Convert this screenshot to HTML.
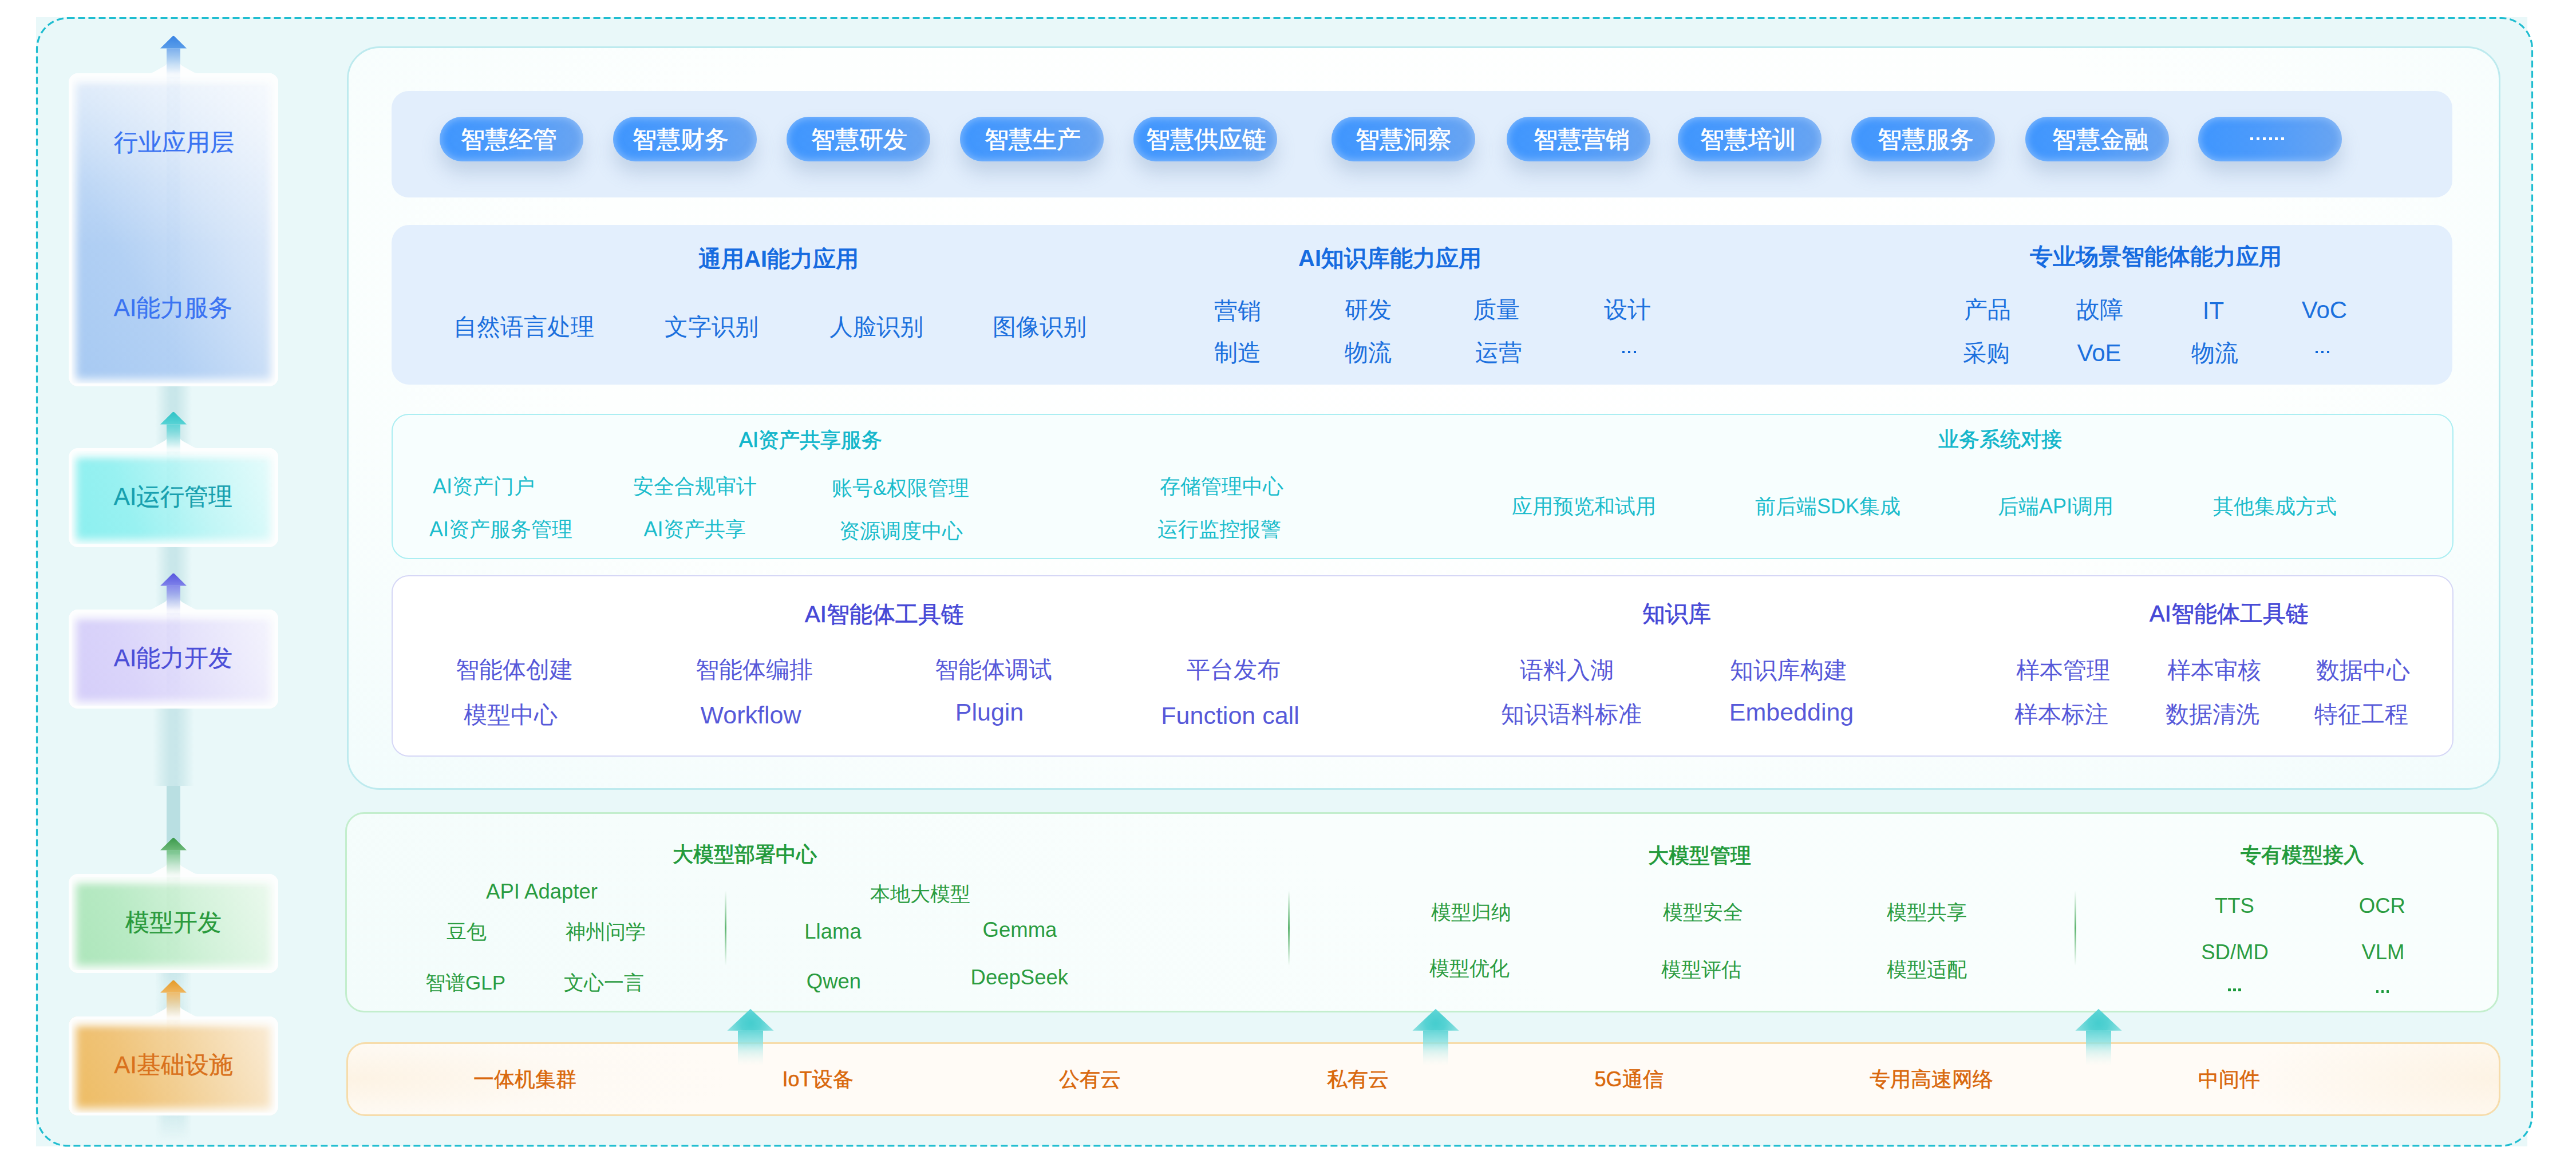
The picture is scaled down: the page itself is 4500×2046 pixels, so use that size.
<!DOCTYPE html>
<html><head><meta charset="utf-8"><style>
*{margin:0;padding:0;box-sizing:border-box}
html,body{width:4500px;height:2046px;overflow:hidden;background:#ffffff;font-family:"Liberation Sans",sans-serif}
.a{position:absolute}
.t{position:absolute;white-space:nowrap;transform:translateX(-50%)}
.pill{position:absolute;top:204px;height:78px;border-radius:39px;background:linear-gradient(90deg,#3f96fe 0%,#4d9bfb 45%,#6aa5f1 100%);box-shadow:0 20px 32px rgba(115,145,185,.30), inset 0 0 13px 3px rgba(165,205,255,.6)}
.pt{color:#fff;-webkit-text-stroke:0.75px #fff}
.lab{}
.r2t{color:#166be0;font-weight:700}
.r2i{color:#1b70de}
.r3t{color:#12b6cb;-webkit-text-stroke:0.7px #12b6cb}
.r3i{color:#1bbccc}
.r4t{color:#4648d6;-webkit-text-stroke:0.7px #4648d6}
.r4i{color:#5659d9}
.r5t{color:#229a3a;-webkit-text-stroke:0.95px #229a3a}
.r5i{color:#2a9c40}
.r6i{color:#d9680c;-webkit-text-stroke:0.55px #d9680c}
</style></head><body>
<svg class="a" style="left:0;top:0" width="4500" height="2046"><rect x="64.5" y="31.5" width="4359" height="1970.5" rx="54" ry="54" fill="#e9f8f9"/><rect x="63" y="30" width="4352" height="1973" fill="#e9f8f9"/><rect x="64.5" y="31.5" width="4359" height="1970.5" rx="54" ry="54" fill="none" stroke="#1fbdd0" stroke-width="3.2" stroke-dasharray="12 6"/></svg>
<div class="a" style="left:606px;top:81px;width:3762px;height:1299px;border:3px solid #bdeaee;border-radius:57px;background:radial-gradient(ellipse 72% 90% at 50% 35%,#ffffff 0%,#fdfffe 55%,#f2fcfc 100%)"></div>
<div class="a" style="left:684px;top:159px;width:3600px;height:186px;border-radius:30px;background:#e2eefc"></div>
<div class="a" style="left:684px;top:393px;width:3600px;height:279px;border-radius:31px;background:#e3effd"></div>
<div class="a" style="left:684px;top:723px;width:3602px;height:254px;border:2.5px solid #abeef2;border-radius:30px;background:#f7fefe"></div>
<div class="a" style="left:684px;top:1005px;width:3602px;height:317px;border:2.5px solid #d6d7f6;border-radius:30px;background:#ffffff"></div>
<div class="a" style="left:603px;top:1419px;width:3762px;height:350px;border:3px solid #c3eecd;border-radius:33px;background:linear-gradient(30deg,#f3fcfb 0%,#f9fefd 50%,#f8fefd 100%)"></div>
<div class="a" style="left:605px;top:1821px;width:3763px;height:129px;border:3px solid #f6dcab;border-radius:33px;background:radial-gradient(ellipse 18% 90% at 0% 50%,#fdf3e4 0%,#fefaf4 60%,rgba(255,251,246,0) 100%),radial-gradient(ellipse 12% 90% at 100% 50%,#fdf3e4 0%,rgba(255,251,246,0) 100%),#fffbf6"></div>
<div class="pill" style="left:768px;width:251px"></div>
<div class="t pt" style="left:889.0px;top:222.7px;font-size:42px;line-height:42px;">智慧经管</div>
<div class="pill" style="left:1071px;width:251px"></div>
<div class="t pt" style="left:1189.0px;top:222.7px;font-size:42px;line-height:42px;">智慧财务</div>
<div class="pill" style="left:1374px;width:251px"></div>
<div class="t pt" style="left:1501.0px;top:222.7px;font-size:42px;line-height:42px;">智慧研发</div>
<div class="pill" style="left:1677px;width:251px"></div>
<div class="t pt" style="left:1804.0px;top:222.7px;font-size:42px;line-height:42px;">智慧生产</div>
<div class="pill" style="left:1980px;width:251px"></div>
<div class="t pt" style="left:2107.0px;top:222.7px;font-size:42px;line-height:42px;">智慧供应链</div>
<div class="pill" style="left:2326px;width:251px"></div>
<div class="t pt" style="left:2452.0px;top:222.7px;font-size:42px;line-height:42px;">智慧洞察</div>
<div class="pill" style="left:2632px;width:251px"></div>
<div class="t pt" style="left:2763.0px;top:222.7px;font-size:42px;line-height:42px;">智慧营销</div>
<div class="pill" style="left:2931px;width:251px"></div>
<div class="t pt" style="left:3054.0px;top:222.7px;font-size:42px;line-height:42px;">智慧培训</div>
<div class="pill" style="left:3234px;width:251px"></div>
<div class="t pt" style="left:3364.0px;top:222.7px;font-size:42px;line-height:42px;">智慧服务</div>
<div class="pill" style="left:3538px;width:251px"></div>
<div class="t pt" style="left:3669.0px;top:222.7px;font-size:42px;line-height:42px;">智慧金融</div>
<div class="pill" style="left:3840px;width:251px"></div>
<div class="a" style="left:3931px;top:240px;width:5px;height:5px;background:#fff"></div>
<div class="a" style="left:3942px;top:240px;width:5px;height:5px;background:#fff"></div>
<div class="a" style="left:3953px;top:240px;width:5px;height:5px;background:#fff"></div>
<div class="a" style="left:3964px;top:240px;width:5px;height:5px;background:#fff"></div>
<div class="a" style="left:3974px;top:240px;width:5px;height:5px;background:#fff"></div>
<div class="a" style="left:3985px;top:240px;width:5px;height:5px;background:#fff"></div>
<div class="t r2t" style="left:1360.0px;top:432.2px;font-size:40px;line-height:40px;">通用AI能力应用</div>
<div class="t r2t" style="left:2428.0px;top:431.2px;font-size:40px;line-height:40px;">AI知识库能力应用</div>
<div class="t r2t" style="left:3766.0px;top:428.2px;font-size:40px;line-height:40px;">专业场景智能体能力应用</div>
<div class="t r2i" style="left:914.5px;top:550.7px;font-size:41px;line-height:41px;">自然语言处理</div>
<div class="t r2i" style="left:1243.0px;top:550.7px;font-size:41px;line-height:41px;">文字识别</div>
<div class="t r2i" style="left:1531.0px;top:550.7px;font-size:41px;line-height:41px;">人脸识别</div>
<div class="t r2i" style="left:1816.0px;top:550.7px;font-size:41px;line-height:41px;">图像识别</div>
<div class="t r2i" style="left:2162.0px;top:523.2px;font-size:41px;line-height:41px;">营销</div>
<div class="t r2i" style="left:2162.0px;top:596.2px;font-size:41px;line-height:41px;">制造</div>
<div class="t r2i" style="left:2389.5px;top:520.7px;font-size:41px;line-height:41px;">研发</div>
<div class="t r2i" style="left:2389.5px;top:595.7px;font-size:41px;line-height:41px;">物流</div>
<div class="t r2i" style="left:2614.0px;top:520.7px;font-size:41px;line-height:41px;">质量</div>
<div class="t r2i" style="left:2617.5px;top:596.2px;font-size:41px;line-height:41px;">运营</div>
<div class="t r2i" style="left:2843.0px;top:520.7px;font-size:41px;line-height:41px;">设计</div>
<div class="t r2i" style="left:3472.0px;top:521.4px;font-size:41px;line-height:41px;">产品</div>
<div class="t r2i" style="left:3469.5px;top:596.7px;font-size:41px;line-height:41px;">采购</div>
<div class="t r2i" style="left:3668.0px;top:521.4px;font-size:41px;line-height:41px;">故障</div>
<div class="t r2i" style="left:3868.5px;top:596.7px;font-size:41px;line-height:41px;">物流</div>
<div class="t r2i" style="left:3667.0px;top:596.0px;font-size:42px;line-height:42px;">VoE</div>
<div class="t r2i" style="left:3866.5px;top:521.6px;font-size:42px;line-height:42px;">IT</div>
<div class="t r2i" style="left:4060.5px;top:521.0px;font-size:42px;line-height:42px;">VoC</div>
<div class="a" style="left:2834.0px;top:613px;width:4.2px;height:4.2px;background:#0a63d9;border-radius:0.5px"></div>
<div class="a" style="left:2844.0px;top:613px;width:4.2px;height:4.2px;background:#0a63d9;border-radius:0.5px"></div>
<div class="a" style="left:2854.0px;top:613px;width:4.2px;height:4.2px;background:#0a63d9;border-radius:0.5px"></div>
<div class="a" style="left:4045.0px;top:612.5px;width:4.2px;height:4.2px;background:#0a63d9;border-radius:0.5px"></div>
<div class="a" style="left:4055.0px;top:612.5px;width:4.2px;height:4.2px;background:#0a63d9;border-radius:0.5px"></div>
<div class="a" style="left:4065.0px;top:612.5px;width:4.2px;height:4.2px;background:#0a63d9;border-radius:0.5px"></div>
<div class="t r3t" style="left:1416.0px;top:751.2px;font-size:36px;line-height:36px;">AI资产共享服务</div>
<div class="t r3t" style="left:3494.0px;top:750.2px;font-size:36px;line-height:36px;">业务系统对接</div>
<div class="t r3i" style="left:845.0px;top:832.2px;font-size:36px;line-height:36px;">AI资产门户</div>
<div class="t r3i" style="left:875.0px;top:906.7px;font-size:36px;line-height:36px;">AI资产服务管理</div>
<div class="t r3i" style="left:1213.5px;top:832.2px;font-size:36px;line-height:36px;">安全合规审计</div>
<div class="t r3i" style="left:1213.5px;top:906.7px;font-size:36px;line-height:36px;">AI资产共享</div>
<div class="t r3i" style="left:1573.0px;top:834.7px;font-size:36px;line-height:36px;">账号&amp;权限管理</div>
<div class="t r3i" style="left:1574.0px;top:909.7px;font-size:36px;line-height:36px;">资源调度中心</div>
<div class="t r3i" style="left:2134.0px;top:832.2px;font-size:36px;line-height:36px;">存储管理中心</div>
<div class="t r3i" style="left:2129.5px;top:906.7px;font-size:36px;line-height:36px;">运行监控报警</div>
<div class="t r3i" style="left:2767.0px;top:866.7px;font-size:36px;line-height:36px;">应用预览和试用</div>
<div class="t r3i" style="left:3193.0px;top:866.7px;font-size:36px;line-height:36px;">前后端SDK集成</div>
<div class="t r3i" style="left:3591.0px;top:866.7px;font-size:36px;line-height:36px;">后端API调用</div>
<div class="t r3i" style="left:3974.0px;top:866.7px;font-size:36px;line-height:36px;">其他集成方式</div>
<div class="t r4t" style="left:1545.0px;top:1052.7px;font-size:40px;line-height:40px;">AI智能体工具链</div>
<div class="t r4t" style="left:2929.0px;top:1052.2px;font-size:40px;line-height:40px;">知识库</div>
<div class="t r4t" style="left:3894.0px;top:1052.2px;font-size:40px;line-height:40px;">AI智能体工具链</div>
<div class="t r4i" style="left:898.5px;top:1149.7px;font-size:41px;line-height:41px;">智能体创建</div>
<div class="t r4i" style="left:891.5px;top:1228.7px;font-size:41px;line-height:41px;">模型中心</div>
<div class="t r4i" style="left:1317.5px;top:1149.7px;font-size:41px;line-height:41px;">智能体编排</div>
<div class="t r4i" style="left:1735.0px;top:1149.7px;font-size:41px;line-height:41px;">智能体调试</div>
<div class="t r4i" style="left:2155.0px;top:1149.7px;font-size:41px;line-height:41px;">平台发布</div>
<div class="t r4i" style="left:2736.5px;top:1150.7px;font-size:41px;line-height:41px;">语料入湖</div>
<div class="t r4i" style="left:2745.0px;top:1228.2px;font-size:41px;line-height:41px;">知识语料标准</div>
<div class="t r4i" style="left:3124.0px;top:1150.7px;font-size:41px;line-height:41px;">知识库构建</div>
<div class="t r4i" style="left:3604.0px;top:1150.7px;font-size:41px;line-height:41px;">样本管理</div>
<div class="t r4i" style="left:3601.0px;top:1228.2px;font-size:41px;line-height:41px;">样本标注</div>
<div class="t r4i" style="left:3867.5px;top:1150.7px;font-size:41px;line-height:41px;">样本审核</div>
<div class="t r4i" style="left:3865.0px;top:1228.2px;font-size:41px;line-height:41px;">数据清洗</div>
<div class="t r4i" style="left:4128.0px;top:1150.7px;font-size:41px;line-height:41px;">数据中心</div>
<div class="t r4i" style="left:4125.0px;top:1228.2px;font-size:41px;line-height:41px;">特征工程</div>
<div class="t r4i" style="left:1311.5px;top:1228.1px;font-size:43px;line-height:43px;">Workflow</div>
<div class="t r4i" style="left:1728.5px;top:1222.8px;font-size:43px;line-height:43px;">Plugin</div>
<div class="t r4i" style="left:2149.0px;top:1228.8px;font-size:43px;line-height:43px;">Function call</div>
<div class="t r4i" style="left:3129.5px;top:1222.8px;font-size:43px;line-height:43px;">Embedding</div>
<div class="t r5t" style="left:1300.5px;top:1475.2px;font-size:36px;line-height:36px;">大模型部署中心</div>
<div class="t r5t" style="left:2968.5px;top:1477.2px;font-size:36px;line-height:36px;">大模型管理</div>
<div class="t r5t" style="left:4021.5px;top:1475.7px;font-size:36px;line-height:36px;">专有模型接入</div>
<div class="t r5i" style="left:814.5px;top:1610.2px;font-size:35px;line-height:35px;">豆包</div>
<div class="t r5i" style="left:1057.5px;top:1610.2px;font-size:35px;line-height:35px;">神州问学</div>
<div class="t r5i" style="left:813.0px;top:1699.2px;font-size:35px;line-height:35px;">智谱GLP</div>
<div class="t r5i" style="left:1055.0px;top:1699.2px;font-size:35px;line-height:35px;">文心一言</div>
<div class="t r5i" style="left:1607.0px;top:1543.7px;font-size:35px;line-height:35px;">本地大模型</div>
<div class="t r5i" style="left:2569.5px;top:1575.7px;font-size:35px;line-height:35px;">模型归纳</div>
<div class="t r5i" style="left:2567.0px;top:1674.2px;font-size:35px;line-height:35px;">模型优化</div>
<div class="t r5i" style="left:2975.0px;top:1575.7px;font-size:35px;line-height:35px;">模型安全</div>
<div class="t r5i" style="left:2972.0px;top:1676.2px;font-size:35px;line-height:35px;">模型评估</div>
<div class="t r5i" style="left:3366.0px;top:1575.7px;font-size:35px;line-height:35px;">模型共享</div>
<div class="t r5i" style="left:3366.0px;top:1676.2px;font-size:35px;line-height:35px;">模型适配</div>
<div class="t r5i" style="left:946.5px;top:1539.6px;font-size:36.5px;line-height:36.5px;">API Adapter</div>
<div class="t r5i" style="left:1455.0px;top:1610.0px;font-size:36.5px;line-height:36.5px;">Llama</div>
<div class="t r5i" style="left:1781.5px;top:1607.1px;font-size:36.5px;line-height:36.5px;">Gemma</div>
<div class="t r5i" style="left:1456.5px;top:1696.6px;font-size:36.5px;line-height:36.5px;">Qwen</div>
<div class="t r5i" style="left:1780.8px;top:1690.1px;font-size:36.5px;line-height:36.5px;">DeepSeek</div>
<div class="t r5i" style="left:3903.4px;top:1565.0px;font-size:36.5px;line-height:36.5px;">TTS</div>
<div class="t r5i" style="left:4161.4px;top:1564.6px;font-size:36.5px;line-height:36.5px;">OCR</div>
<div class="t r5i" style="left:3904.0px;top:1645.6px;font-size:36.5px;line-height:36.5px;">SD/MD</div>
<div class="t r5i" style="left:4163.0px;top:1645.6px;font-size:36.5px;line-height:36.5px;">VLM</div>
<div class="a" style="left:3892.4px;top:1727px;width:4.5px;height:4.5px;background:#1c9a3c;border-radius:0.5px"></div>
<div class="a" style="left:3901.4px;top:1727px;width:4.5px;height:4.5px;background:#1c9a3c;border-radius:0.5px"></div>
<div class="a" style="left:3910.4px;top:1727px;width:4.5px;height:4.5px;background:#1c9a3c;border-radius:0.5px"></div>
<div class="a" style="left:4150.5px;top:1730px;width:4.5px;height:4.5px;background:#1c9a3c;border-radius:0.5px"></div>
<div class="a" style="left:4159.5px;top:1730px;width:4.5px;height:4.5px;background:#1c9a3c;border-radius:0.5px"></div>
<div class="a" style="left:4168.5px;top:1730px;width:4.5px;height:4.5px;background:#1c9a3c;border-radius:0.5px"></div>
<div class="a" style="left:1265.5px;top:1556px;width:3px;height:131px;background:linear-gradient(180deg,rgba(42,156,64,0) 0%,rgba(42,156,64,.75) 50%,rgba(42,156,64,0) 100%)"></div>
<div class="a" style="left:2249.5px;top:1556px;width:3px;height:131px;background:linear-gradient(180deg,rgba(42,156,64,0) 0%,rgba(42,156,64,.75) 50%,rgba(42,156,64,0) 100%)"></div>
<div class="a" style="left:3623.5px;top:1556px;width:3px;height:131px;background:linear-gradient(180deg,rgba(42,156,64,0) 0%,rgba(42,156,64,.75) 50%,rgba(42,156,64,0) 100%)"></div>
<div class="t r6i" style="left:916.5px;top:1868.2px;font-size:36px;line-height:36px;">一体机集群</div>
<div class="t r6i" style="left:1428.5px;top:1868.2px;font-size:36px;line-height:36px;">IoT设备</div>
<div class="t r6i" style="left:1904.0px;top:1868.2px;font-size:36px;line-height:36px;">公有云</div>
<div class="t r6i" style="left:2371.5px;top:1868.2px;font-size:36px;line-height:36px;">私有云</div>
<div class="t r6i" style="left:2845.5px;top:1868.2px;font-size:36px;line-height:36px;">5G通信</div>
<div class="t r6i" style="left:3374.0px;top:1868.2px;font-size:36px;line-height:36px;">专用高速网络</div>
<div class="t r6i" style="left:3893.5px;top:1868.2px;font-size:36px;line-height:36px;">中间件</div>
<svg class="a" style="left:1266px;top:1758px" width="90" height="110"><defs>
<radialGradient id="th1311" gradientUnits="userSpaceOnUse" cx="45" cy="30" r="38"><stop offset="0" stop-color="#45cdce"/><stop offset=".45" stop-color="#55d2d3"/><stop offset="1" stop-color="#88dfdf"/></radialGradient>
<linearGradient id="ts1311" gradientUnits="userSpaceOnUse" x1="0" y1="42" x2="0" y2="104"><stop offset="0" stop-color="#5dd4d5" stop-opacity=".95"/><stop offset=".35" stop-color="#8fe2e2" stop-opacity=".85"/><stop offset=".6" stop-color="#b5ebe9" stop-opacity=".5"/><stop offset="1" stop-color="#e0f6f2" stop-opacity="0"/></linearGradient></defs>
<rect x="23" y="42.5" width="44" height="62" fill="url(#ts1311)"/>
<path d="M45 4.7 L85.5 42.7 L4.5 42.7 Z" fill="url(#th1311)"/></svg>
<svg class="a" style="left:2463px;top:1758px" width="90" height="110"><defs>
<radialGradient id="th2508" gradientUnits="userSpaceOnUse" cx="45" cy="30" r="38"><stop offset="0" stop-color="#45cdce"/><stop offset=".45" stop-color="#55d2d3"/><stop offset="1" stop-color="#88dfdf"/></radialGradient>
<linearGradient id="ts2508" gradientUnits="userSpaceOnUse" x1="0" y1="42" x2="0" y2="104"><stop offset="0" stop-color="#5dd4d5" stop-opacity=".95"/><stop offset=".35" stop-color="#8fe2e2" stop-opacity=".85"/><stop offset=".6" stop-color="#b5ebe9" stop-opacity=".5"/><stop offset="1" stop-color="#e0f6f2" stop-opacity="0"/></linearGradient></defs>
<rect x="23" y="42.5" width="44" height="62" fill="url(#ts2508)"/>
<path d="M45 4.7 L85.5 42.7 L4.5 42.7 Z" fill="url(#th2508)"/></svg>
<svg class="a" style="left:3620.5px;top:1758px" width="90" height="110"><defs>
<radialGradient id="th3665" gradientUnits="userSpaceOnUse" cx="45" cy="30" r="38"><stop offset="0" stop-color="#45cdce"/><stop offset=".45" stop-color="#55d2d3"/><stop offset="1" stop-color="#88dfdf"/></radialGradient>
<linearGradient id="ts3665" gradientUnits="userSpaceOnUse" x1="0" y1="42" x2="0" y2="104"><stop offset="0" stop-color="#5dd4d5" stop-opacity=".95"/><stop offset=".35" stop-color="#8fe2e2" stop-opacity=".85"/><stop offset=".6" stop-color="#b5ebe9" stop-opacity=".5"/><stop offset="1" stop-color="#e0f6f2" stop-opacity="0"/></linearGradient></defs>
<rect x="23" y="42.5" width="44" height="62" fill="url(#ts3665)"/>
<path d="M45 4.7 L85.5 42.7 L4.5 42.7 Z" fill="url(#th3665)"/></svg>
<div class="a" style="left:271.0px;top:675px;width:64px;height:110px;background:linear-gradient(90deg,rgba(196,228,231,0) 0%,rgba(196,228,231,.55) 25%,rgba(190,225,229,0.75) 42%,rgba(190,225,229,0.75) 58%,rgba(196,228,231,.55) 75%,rgba(196,228,231,0) 100%);"></div>
<div class="a" style="left:271.0px;top:956px;width:64px;height:110px;background:linear-gradient(90deg,rgba(196,228,231,0) 0%,rgba(196,228,231,.55) 25%,rgba(190,225,229,0.75) 42%,rgba(190,225,229,0.75) 58%,rgba(196,228,231,.55) 75%,rgba(196,228,231,0) 100%);"></div>
<div class="a" style="left:267.0px;top:1238px;width:72px;height:135px;background:linear-gradient(90deg,rgba(196,228,231,0) 0%,rgba(196,228,231,.55) 25%,rgba(190,225,229,0.75) 42%,rgba(190,225,229,0.75) 58%,rgba(196,228,231,.55) 75%,rgba(196,228,231,0) 100%);"></div>
<div class="a" style="left:291px;top:1373px;width:24px;height:120px;background:#b9dfe2"></div>
<div class="a" style="left:271.0px;top:1700px;width:64px;height:76px;background:linear-gradient(90deg,rgba(196,228,231,0) 0%,rgba(196,228,231,.55) 25%,rgba(190,225,229,0.7) 42%,rgba(190,225,229,0.7) 58%,rgba(196,228,231,.55) 75%,rgba(196,228,231,0) 100%);-webkit-mask-image:linear-gradient(180deg,#000 0%,rgba(0,0,0,.6) 40%,rgba(0,0,0,.9) 100%);"></div>
<div class="a" style="left:271.0px;top:1949px;width:64px;height:45px;background:linear-gradient(90deg,rgba(196,228,231,0) 0%,rgba(196,228,231,.55) 25%,rgba(190,225,229,0.5) 42%,rgba(190,225,229,0.5) 58%,rgba(196,228,231,.55) 75%,rgba(196,228,231,0) 100%);-webkit-mask-image:linear-gradient(180deg,#000 0%,rgba(0,0,0,0) 100%);"></div>
<div class="a" style="left:120px;top:128px;width:366px;height:547px;border-radius:16px;background:#fdfefe;overflow:hidden"><div class="a" style="left:0;top:0;right:0;bottom:0;background:linear-gradient(180deg,rgba(253,254,254,.55) 0%,rgba(253,254,254,.15) 35%,rgba(253,254,254,0) 55%),linear-gradient(62deg,#a6c9f2 0%,#b2d0f4 32%,#d2e3f8 62%,#f1f6fd 100%);box-shadow:inset 0 0 0 5px #fdfefe,inset 0 0 16px 12px #fdfefe,inset 0 12px 16px 2px rgba(253,254,254,.8)"></div><div class="a" style="left:171px;top:6px;width:24px;height:531px;background:linear-gradient(180deg,rgba(120,172,236,.04),rgba(120,172,236,.035) 70%,rgba(120,172,236,0))"></div></div>
<svg class="a" style="left:240px;top:58px" width="126" height="110"><defs>
<linearGradient id="ah0" x1="0" y1="0" x2="0" y2="1"><stop offset="0" stop-color="#3884e4"/><stop offset="1" stop-color="#5a9de9"/></linearGradient>
<linearGradient id="as0" gradientUnits="userSpaceOnUse" x1="0" y1="27" x2="0" y2="82"><stop offset="0" stop-color="rgb(120,172,236)" stop-opacity=".95"/><stop offset=".5" stop-color="rgb(120,172,236)" stop-opacity=".35"/><stop offset=".8" stop-color="rgb(120,172,236)" stop-opacity=".08"/><stop offset="1" stop-color="rgb(120,172,236)" stop-opacity="0"/></linearGradient></defs>
<linearGradient id="aw0" gradientUnits="userSpaceOnUse" x1="0" y1="40" x2="0" y2="70"><stop offset="0" stop-color="#fdfefe" stop-opacity="0"/><stop offset="1" stop-color="#fdfefe" stop-opacity="1"/></linearGradient><path d="M10 74.5 L10 70 L21 70 Q25 70 28 68 L47 57.5 Q51 55 51 53 L51 74.5 Z M116 74.5 L116 70 L105 70 Q101 70 98 68 L79 57.5 Q75 55 75 53 L75 74.5 Z" fill="#fdfefe"/><rect x="51" y="40" width="24" height="35" fill="url(#aw0)"/>
<rect x="51" y="26.5" width="24" height="68.5" fill="url(#as0)"/>
<path d="M61.5 5.3 Q63 4 64.5 5.3 L86 26.5 L40 26.5 Z" fill="url(#ah0)"/>
</svg>
<div class="a" style="left:120px;top:783px;width:366px;height:173px;border-radius:16px;background:#fdfefe;overflow:hidden"><div class="a" style="left:0;top:0;right:0;bottom:0;background:linear-gradient(70deg,#8aefef 0%,#98f1f1 30%,#c2f6f6 62%,#eafcfc 100%);box-shadow:inset 0 0 0 5px #fdfefe,inset 0 0 16px 12px #fdfefe,inset 0 12px 16px 2px rgba(253,254,254,.8)"></div><div class="a" style="left:171px;top:6px;width:24px;height:157px;background:linear-gradient(180deg,rgba(92,212,214,.04),rgba(92,212,214,.035) 70%,rgba(92,212,214,0))"></div></div>
<svg class="a" style="left:240px;top:715px" width="126" height="108"><defs>
<linearGradient id="ah1" x1="0" y1="0" x2="0" y2="1"><stop offset="0" stop-color="#2ec3c6"/><stop offset="1" stop-color="#58d3d5"/></linearGradient>
<linearGradient id="as1" gradientUnits="userSpaceOnUse" x1="0" y1="27" x2="0" y2="80"><stop offset="0" stop-color="rgb(92,212,214)" stop-opacity=".95"/><stop offset=".5" stop-color="rgb(92,212,214)" stop-opacity=".35"/><stop offset=".8" stop-color="rgb(92,212,214)" stop-opacity=".08"/><stop offset="1" stop-color="rgb(92,212,214)" stop-opacity="0"/></linearGradient></defs>
<linearGradient id="aw1" gradientUnits="userSpaceOnUse" x1="0" y1="38" x2="0" y2="68"><stop offset="0" stop-color="#fdfefe" stop-opacity="0"/><stop offset="1" stop-color="#fdfefe" stop-opacity="1"/></linearGradient><path d="M10 72.5 L10 68 L21 68 Q25 68 28 66 L47 55.5 Q51 53 51 51 L51 72.5 Z M116 72.5 L116 68 L105 68 Q101 68 98 66 L79 55.5 Q75 53 75 51 L75 72.5 Z" fill="#fdfefe"/><rect x="51" y="38" width="24" height="35" fill="url(#aw1)"/>
<rect x="51" y="26.5" width="24" height="66.5" fill="url(#as1)"/>
<path d="M61.5 5.3 Q63 4 64.5 5.3 L86 26.5 L40 26.5 Z" fill="url(#ah1)"/>
</svg>
<div class="a" style="left:120px;top:1065px;width:366px;height:173px;border-radius:16px;background:#fdfefe;overflow:hidden"><div class="a" style="left:0;top:0;right:0;bottom:0;background:linear-gradient(70deg,#d4cdf9 0%,#dad4fa 30%,#e6e3fb 62%,#f6f6fd 100%);box-shadow:inset 0 0 0 5px #fdfefe,inset 0 0 16px 12px #fdfefe,inset 0 12px 16px 2px rgba(253,254,254,.8)"></div><div class="a" style="left:171px;top:6px;width:24px;height:157px;background:linear-gradient(180deg,rgba(134,136,236,.04),rgba(134,136,236,.035) 70%,rgba(134,136,236,0))"></div></div>
<svg class="a" style="left:240px;top:997px" width="126" height="108"><defs>
<linearGradient id="ah2" x1="0" y1="0" x2="0" y2="1"><stop offset="0" stop-color="#5656de"/><stop offset="1" stop-color="#7f82ea"/></linearGradient>
<linearGradient id="as2" gradientUnits="userSpaceOnUse" x1="0" y1="27" x2="0" y2="80"><stop offset="0" stop-color="rgb(134,136,236)" stop-opacity=".95"/><stop offset=".5" stop-color="rgb(134,136,236)" stop-opacity=".35"/><stop offset=".8" stop-color="rgb(134,136,236)" stop-opacity=".08"/><stop offset="1" stop-color="rgb(134,136,236)" stop-opacity="0"/></linearGradient></defs>
<linearGradient id="aw2" gradientUnits="userSpaceOnUse" x1="0" y1="38" x2="0" y2="68"><stop offset="0" stop-color="#fdfefe" stop-opacity="0"/><stop offset="1" stop-color="#fdfefe" stop-opacity="1"/></linearGradient><path d="M10 72.5 L10 68 L21 68 Q25 68 28 66 L47 55.5 Q51 53 51 51 L51 72.5 Z M116 72.5 L116 68 L105 68 Q101 68 98 66 L79 55.5 Q75 53 75 51 L75 72.5 Z" fill="#fdfefe"/><rect x="51" y="38" width="24" height="35" fill="url(#aw2)"/>
<rect x="51" y="26.5" width="24" height="66.5" fill="url(#as2)"/>
<path d="M61.5 5.3 Q63 4 64.5 5.3 L86 26.5 L40 26.5 Z" fill="url(#ah2)"/>
</svg>
<div class="a" style="left:120px;top:1527px;width:366px;height:173px;border-radius:16px;background:#fdfefe;overflow:hidden"><div class="a" style="left:0;top:0;right:0;bottom:0;background:linear-gradient(70deg,#abe5b9 0%,#b8eac4 30%,#d3f2da 62%,#eefaf0 100%);box-shadow:inset 0 0 0 5px #fdfefe,inset 0 0 16px 12px #fdfefe,inset 0 12px 16px 2px rgba(253,254,254,.8)"></div><div class="a" style="left:171px;top:6px;width:24px;height:157px;background:linear-gradient(180deg,rgba(120,196,136,.04),rgba(120,196,136,.035) 70%,rgba(120,196,136,0))"></div></div>
<svg class="a" style="left:240px;top:1459px" width="126" height="108"><defs>
<linearGradient id="ah3" x1="0" y1="0" x2="0" y2="1"><stop offset="0" stop-color="#3a994a"/><stop offset="1" stop-color="#6cb978"/></linearGradient>
<linearGradient id="as3" gradientUnits="userSpaceOnUse" x1="0" y1="27" x2="0" y2="80"><stop offset="0" stop-color="rgb(120,196,136)" stop-opacity=".95"/><stop offset=".5" stop-color="rgb(120,196,136)" stop-opacity=".35"/><stop offset=".8" stop-color="rgb(120,196,136)" stop-opacity=".08"/><stop offset="1" stop-color="rgb(120,196,136)" stop-opacity="0"/></linearGradient></defs>
<linearGradient id="aw3" gradientUnits="userSpaceOnUse" x1="0" y1="38" x2="0" y2="68"><stop offset="0" stop-color="#fdfefe" stop-opacity="0"/><stop offset="1" stop-color="#fdfefe" stop-opacity="1"/></linearGradient><path d="M10 72.5 L10 68 L21 68 Q25 68 28 66 L47 55.5 Q51 53 51 51 L51 72.5 Z M116 72.5 L116 68 L105 68 Q101 68 98 66 L79 55.5 Q75 53 75 51 L75 72.5 Z" fill="#fdfefe"/><rect x="51" y="38" width="24" height="35" fill="url(#aw3)"/>
<rect x="51" y="26.5" width="24" height="66.5" fill="url(#as3)"/>
<path d="M61.5 5.3 Q63 4 64.5 5.3 L86 26.5 L40 26.5 Z" fill="url(#ah3)"/>
</svg>
<div class="a" style="left:120px;top:1776px;width:366px;height:173px;border-radius:16px;background:#fdfefe;overflow:hidden"><div class="a" style="left:0;top:0;right:0;bottom:0;background:linear-gradient(70deg,#edbb60 0%,#f0c47a 30%,#f4d7a6 62%,#fbeedb 100%);box-shadow:inset 0 0 0 5px #fdfefe,inset 0 0 16px 12px #fdfefe,inset 0 12px 16px 2px rgba(253,254,254,.8)"></div><div class="a" style="left:171px;top:6px;width:24px;height:157px;background:linear-gradient(180deg,rgba(240,186,104,.04),rgba(240,186,104,.035) 70%,rgba(240,186,104,0))"></div></div>
<svg class="a" style="left:240px;top:1708px" width="126" height="108"><defs>
<linearGradient id="ah4" x1="0" y1="0" x2="0" y2="1"><stop offset="0" stop-color="#e59a28"/><stop offset="1" stop-color="#efb65e"/></linearGradient>
<linearGradient id="as4" gradientUnits="userSpaceOnUse" x1="0" y1="27" x2="0" y2="80"><stop offset="0" stop-color="rgb(240,186,104)" stop-opacity=".95"/><stop offset=".5" stop-color="rgb(240,186,104)" stop-opacity=".35"/><stop offset=".8" stop-color="rgb(240,186,104)" stop-opacity=".08"/><stop offset="1" stop-color="rgb(240,186,104)" stop-opacity="0"/></linearGradient></defs>
<linearGradient id="aw4" gradientUnits="userSpaceOnUse" x1="0" y1="38" x2="0" y2="68"><stop offset="0" stop-color="#fdfefe" stop-opacity="0"/><stop offset="1" stop-color="#fdfefe" stop-opacity="1"/></linearGradient><path d="M10 72.5 L10 68 L21 68 Q25 68 28 66 L47 55.5 Q51 53 51 51 L51 72.5 Z M116 72.5 L116 68 L105 68 Q101 68 98 66 L79 55.5 Q75 53 75 51 L75 72.5 Z" fill="#fdfefe"/><rect x="51" y="38" width="24" height="35" fill="url(#aw4)"/>
<rect x="51" y="26.5" width="24" height="66.5" fill="url(#as4)"/>
<path d="M61.5 5.3 Q63 4 64.5 5.3 L86 26.5 L40 26.5 Z" fill="url(#ah4)"/>
</svg>
<div class="t lab" style="left:303.5px;top:227.7px;font-size:42px;line-height:42px;color:#3a73f2;-webkit-text-stroke:0.35px #3a73f2;">行业应用层</div>
<div class="t lab" style="left:302.5px;top:516.7px;font-size:42px;line-height:42px;color:#3a73f2;-webkit-text-stroke:0.35px #3a73f2;">AI能力服务</div>
<div class="t lab" style="left:302.5px;top:846.7px;font-size:42px;line-height:42px;color:#17a0af;-webkit-text-stroke:0.35px #17a0af;">AI运行管理</div>
<div class="t lab" style="left:302.5px;top:1129.2px;font-size:42px;line-height:42px;color:#4b4ed8;-webkit-text-stroke:0.35px #4b4ed8;">AI能力开发</div>
<div class="t lab" style="left:302.5px;top:1590.7px;font-size:42px;line-height:42px;color:#2a9a3c;-webkit-text-stroke:0.35px #2a9a3c;">模型开发</div>
<div class="t lab" style="left:303.0px;top:1839.7px;font-size:42px;line-height:42px;color:#d9711c;-webkit-text-stroke:0.35px #d9711c;">AI基础设施</div>
</body></html>
